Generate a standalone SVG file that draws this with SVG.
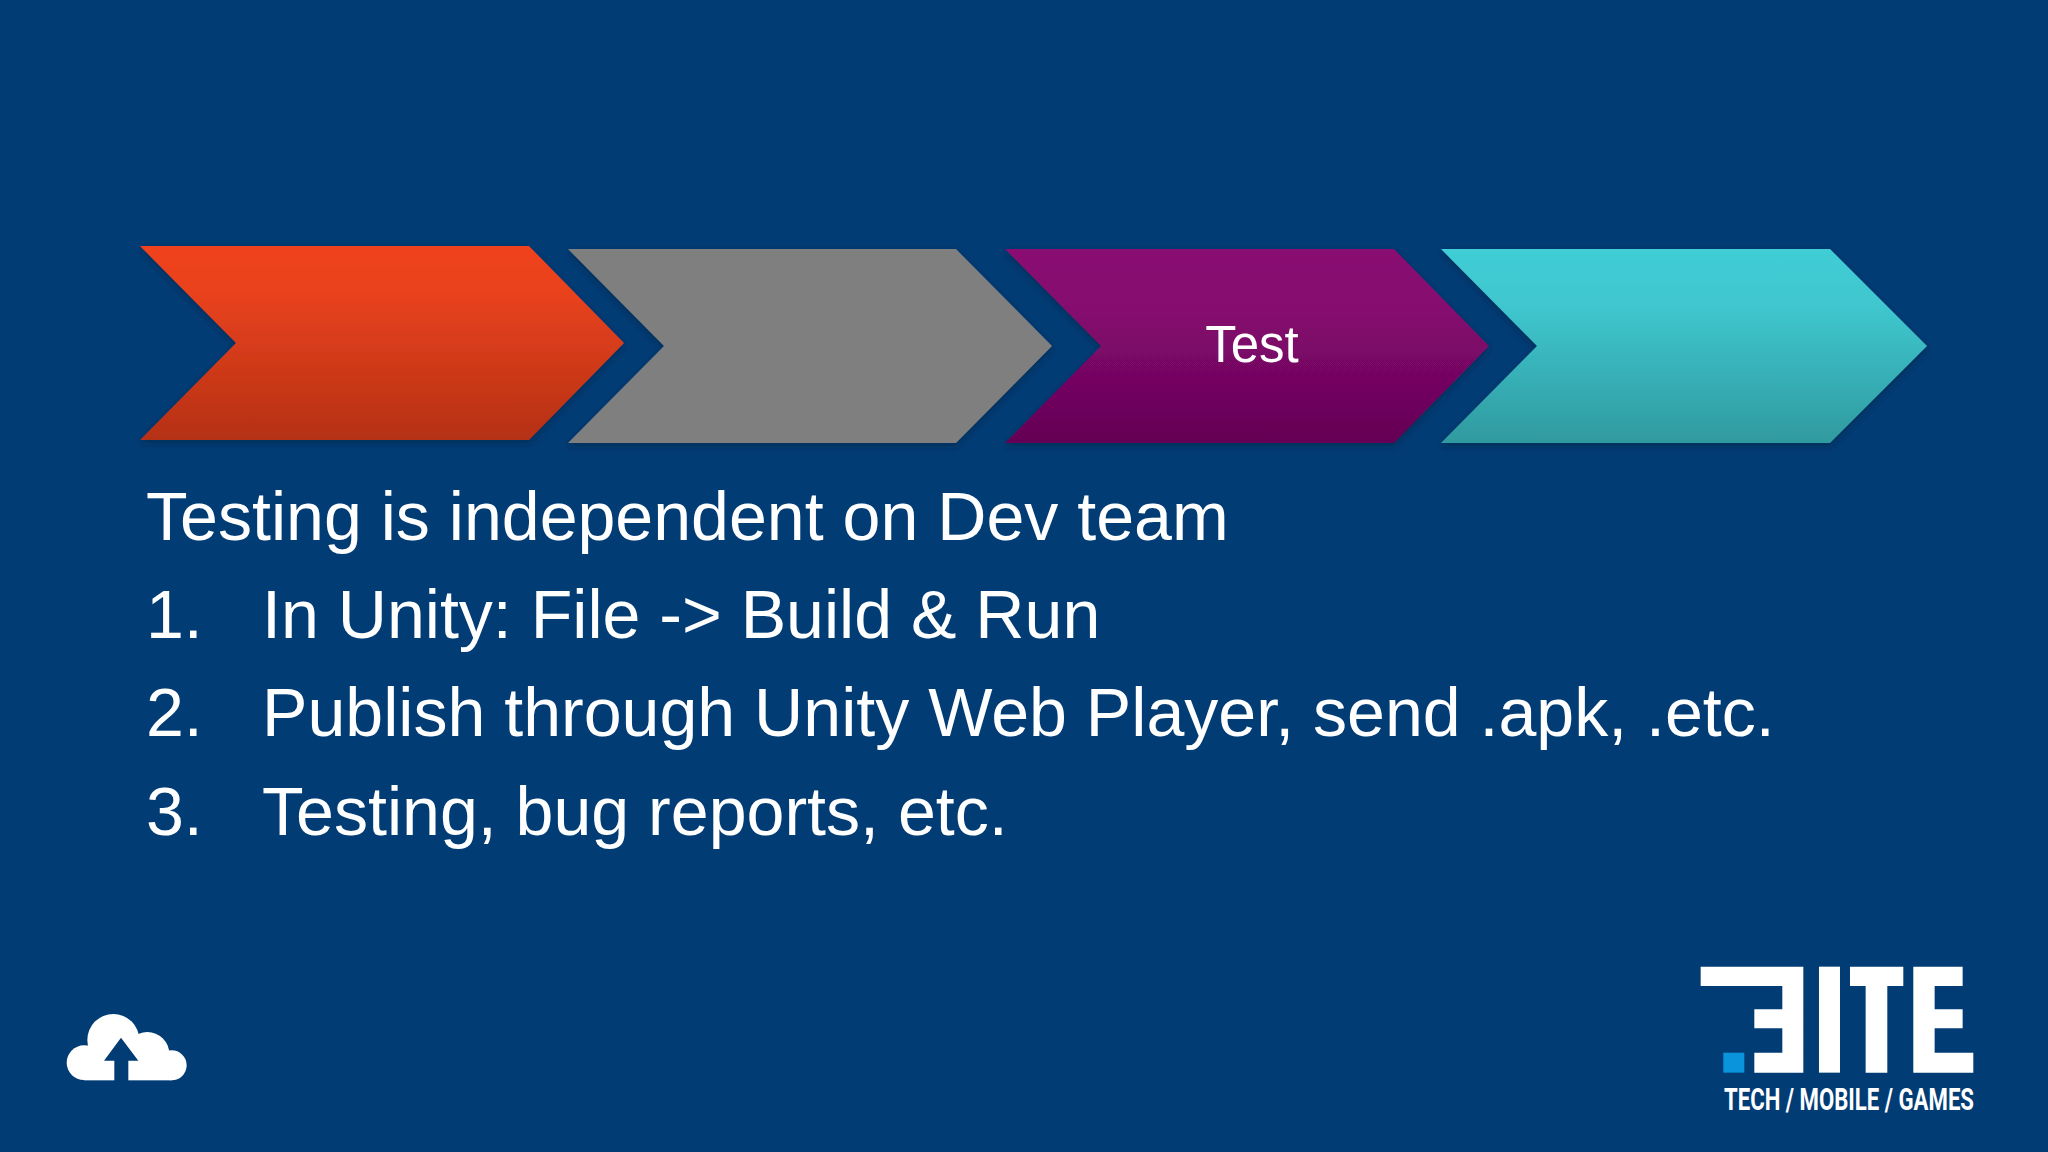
<svg xmlns="http://www.w3.org/2000/svg" width="2048" height="1152" viewBox="0 0 2048 1152">
<style>
.body{font-family:"Liberation Sans",Arial,sans-serif;font-size:68.1px;fill:#fff}
.lab{font-family:"Liberation Sans",Arial,sans-serif;font-size:51px;fill:#fff;text-anchor:middle}
.w{fill:#fff}
.chev{filter:url(#sh)}
</style>
<defs>
<filter id="sh" x="-5%" y="-5%" width="110%" height="115%"><feDropShadow dx="0" dy="3" stdDeviation="3" flood-color="#001a3a" flood-opacity="0.5"/></filter>
<linearGradient id="g1" x1="0" y1="0" x2="0" y2="1"><stop offset="0" stop-color="#f0431c"/><stop offset="0.25" stop-color="#e8421c"/><stop offset="1" stop-color="#b53116"/></linearGradient>
<linearGradient id="g2" x1="0" y1="0" x2="0" y2="1"><stop offset="0" stop-color="#7f7f7f"/><stop offset="1" stop-color="#7f7f7f"/></linearGradient>
<linearGradient id="g3" x1="0" y1="0" x2="0" y2="1"><stop offset="0" stop-color="#8a0a72"/><stop offset="0.3" stop-color="#860970"/><stop offset="1" stop-color="#640355"/></linearGradient>
<linearGradient id="g4" x1="0" y1="0" x2="0" y2="1"><stop offset="0" stop-color="#41cdd6"/><stop offset="0.3" stop-color="#3fc6ce"/><stop offset="1" stop-color="#2f9a9f"/></linearGradient>
</defs>
<rect width="2048" height="1152" fill="#023c74"/>
<g id="step-1"><polygon class="chev" fill="url(#g1)" points="140,246 529,246 624,343 529,440 140,440 236,343"/></g>
<g id="step-2"><polygon class="chev" fill="url(#g2)" points="568,249 956,249 1052,346 956,443 568,443 664,346"/></g>
<g id="step-3"><polygon class="chev" fill="url(#g3)" points="1005,249 1394,249 1489,346 1394,443 1005,443 1101,346"/><text class="lab" x="1252" y="362">Test</text></g>
<g id="step-4"><polygon class="chev" fill="url(#g4)" points="1441,249 1830,249 1927,346 1830,443 1441,443 1537,346"/></g>
<g id="connectors"></g>
<g id="body">
<text class="body" x="146" y="540">Testing is independent on Dev team</text>
<text class="body" x="146" y="638">1.</text><text class="body" x="262" y="638">In Unity: File -&gt; Build &amp; Run</text>
<text class="body" x="146" y="736">2.</text><text class="body" x="262" y="736">Publish through Unity Web Player, send .apk, .etc.</text>
<text class="body" x="146" y="835">3.</text><text class="body" x="262" y="835">Testing, bug reports, etc.</text>
</g>
<g id="cloud-icon" transform="translate(50 990) scale(0.3333)">
<g class="w"><circle cx="102" cy="218" r="52"/><circle cx="190" cy="150" r="78"/><circle cx="292" cy="192" r="66"/><circle cx="365" cy="226" r="45"/><rect x="102" y="190" width="263" height="81"/></g>
<polygon fill="#023c74" points="213,143 265,212 235,212 235,274 193,274 193,212 162,212"/>
</g>
<g id="logo" transform="translate(1660 940) scale(0.3333)">
<g class="w">
<polygon points="122,80 430,80 430,398 283,398 283,338 367,338 367,265 283,265 283,208 367,208 367,138 122,138"/>
<rect x="477" y="80" width="63" height="318"/>
<polygon points="570,80 730,80 730,138 682,138 682,398 617,398 617,138 570,138"/>
<polygon points="760,80 908,80 908,138 824,138 824,208 908,208 908,265 824,265 824,338 940,338 940,398 760,398"/>
</g>
<rect x="190" y="338" width="63" height="60" fill="#0a94dc"/>
</g>
<text id="logo-text" transform="translate(1724 1110) scale(1 1.3)" x="0" y="0" font-family="Roboto,'Liberation Sans',sans-serif" font-weight="700" font-size="24" fill="#fff" textLength="250" lengthAdjust="spacingAndGlyphs">TECH / MOBILE / GAMES</text>
</svg>
